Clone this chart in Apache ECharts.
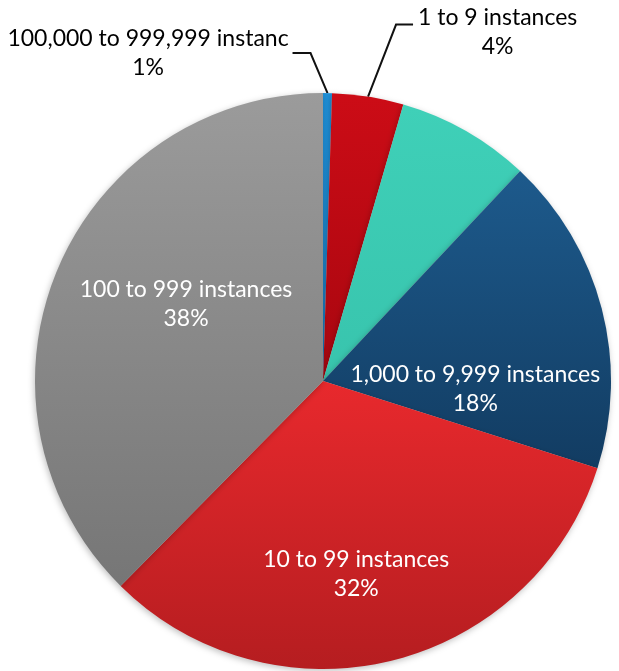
<!DOCTYPE html>
<html>
<head>
<meta charset="utf-8">
<script src="https://cdn.jsdelivr.net/npm/echarts@6/dist/echarts.min.js"></script>
<style>html,body{margin:0;padding:0;background:#fff}#c{width:619px;height:671px}</style>
</head>
<body>
<div id="c"></div>
<script>
const categories = ['100,000 to 999,999 instanc', '1 to 9 instances', '10,000 to 99,999 instances', '1,000 to 9,999 instances', '10 to 99 instances', '100 to 999 instances'];
const values = [0.5, 4.0, 7.5, 17.9, 32.5, 37.6];
const pctLabels = ['1%', '4%', '8%', '18%', '32%', '38%'];

const colorTop = ['#1f90d8', '#cc0c16', '#3fd0b8', '#1d5a8c', '#e8292d', '#9b9b9b'];
const colorBottom = ['#1a80c8', '#a8060f', '#38c4ad', '#123c62', '#b51d20', '#767676'];
const textColors = ['#000', '#000', '#fff', '#fff', '#fff', '#fff'];
const outside = [true, true, true, false, false, false];

// label placement relative to library-computed anchors
const layoutCfg = [
  {lx: -179.5, ly: -68.5, line: [[-17, -40], [-35, -40]]},
  {lx: 129.6, ly: -93, line: [[28, -72], [45, -72]]},
  {lx: 114, ly: -43.5, line: null},
  {dx: 10, dy: 45},
  {dx: -2, dy: 50},
  {dx: -1, dy: -21}
];

const data = categories.map((name, i) => ({
  name: name,
  value: values[i],
  itemStyle: {
    color: new echarts.graphic.LinearGradient(0, 0, 0, 1, [
      {offset: 0, color: colorTop[i]},
      {offset: 1, color: colorBottom[i]}
    ])
  },
  label: {
    position: outside[i] ? 'outside' : 'inside',
    color: textColors[i],
    formatter: '{b}\n' + pctLabels[i]
  },
  labelLine: {show: outside[i] && i !== 2}
}));

const chart = echarts.init(document.getElementById('c'), null, {renderer: 'canvas'});
chart.setOption({
  animation: false,
  backgroundColor: '#ffffff',
  series: [{
    type: 'pie',
    center: [323, 381],
    radius: [0, 288],
    startAngle: 90,
    clockwise: true,
    avoidLabelOverlap: false,
    data: data,
    itemStyle: {
      borderWidth: 0,
      shadowBlur: 6,
      shadowColor: 'rgba(0,0,0,0.25)',
      shadowOffsetX: -1,
      shadowOffsetY: 2
    },
    label: {
      show: true,
      fontFamily: 'Lato',
      fontSize: 23,
      lineHeight: 29,
      align: 'center'
    },
    labelLine: {
      show: true,
      length: 20,
      length2: 20,
      lineStyle: {color: '#111', width: 2}
    },
    emphasis: {disabled: true},
    labelLayout: function (p) {
      const c = layoutCfg[p.dataIndex];
      if (c.dx !== undefined) {
        return {dx: c.dx, dy: c.dy};
      }
      const pts = p.labelLinePoints;
      const a = pts ? pts[0] : [p.labelRect.x, p.labelRect.y];
      const res = {
        x: a[0] + c.lx,
        y: a[1] + c.ly,
        align: 'center',
        verticalAlign: 'top'
      };
      if (c.line && pts) {
        res.labelLinePoints = [
          [a[0], a[1]],
          [a[0] + c.line[0][0], a[1] + c.line[0][1]],
          [a[0] + c.line[1][0], a[1] + c.line[1][1]]
        ];
      }
      return res;
    }
  }]
});
</script>
</body>
</html>
